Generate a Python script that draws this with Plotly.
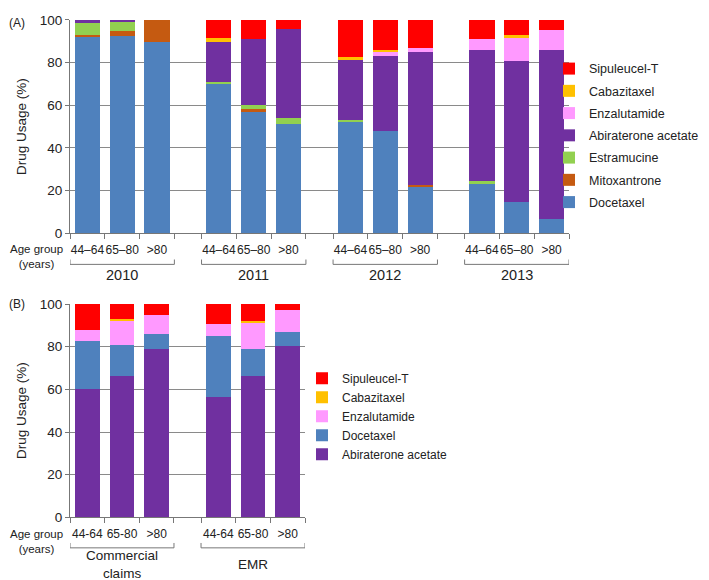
import plotly.graph_objects as go

# ---------------- data ----------------
age_groups_a = ["44–64", "65–80", ">80"]
years = ["2010", "2011", "2012", "2013"]
age_groups_b = ["44-64", "65-80", ">80"]
sources_b = ["Commercial<br>claims", "EMR"]

# Panel A (order: 2010 x3, 2011 x3, 2012 x3, 2013 x3)
a_docetaxel = [92.0, 92.7, 89.6, 70.0, 57.1, 51.3, 52.1, 47.8, 21.6, 23.2, 14.8, 6.8]
a_mitoxantrone = [1.0, 2.3, 10.4, 0.0, 1.4, 0.0, 0.0, 0.0, 1.2, 0.0, 0.0, 0.0]
a_estramucine = [5.5, 4.0, 0.0, 0.8, 1.8, 2.9, 1.0, 0.0, 0.0, 1.2, 0.0, 0.0]
a_abiraterone = [1.5, 1.0, 0.0, 18.7, 30.7, 41.7, 28.3, 35.5, 62.3, 61.6, 66.2, 79.2]
a_enzalutamide = [0.0, 0.0, 0.0, 0.0, 0.0, 0.0, 0.0, 1.9, 2.0, 5.2, 10.9, 9.1]
a_cabazitaxel = [0.0, 0.0, 0.0, 2.1, 0.0, 0.0, 1.1, 0.6, 0.0, 0.0, 0.9, 0.0]
a_sipuleucel = [0.0, 0.0, 0.0, 8.4, 9.0, 4.1, 17.5, 14.2, 12.9, 8.8, 7.2, 4.9]

# Panel B (order: Commercial x3, EMR x3)
b_abiraterone = [60.1, 66.1, 78.8, 56.3, 66.1, 80.2]
b_docetaxel = [22.5, 14.9, 7.0, 28.8, 13.0, 6.6]
b_enzalutamide = [5.3, 11.1, 9.2, 5.5, 12.4, 10.2]
b_cabazitaxel = [0.0, 0.9, 0.0, 0.0, 0.7, 0.0]
b_sipuleucel = [12.1, 7.0, 5.0, 9.4, 7.8, 3.0]

colors = {
    "Sipuleucel-T": "#FF0000",
    "Cabazitaxel": "#FFC000",
    "Enzalutamide": "#FF99FF",
    "Abiraterone acetate": "#7030A0",
    "Estramucine": "#92D050",
    "Mitoxantrone": "#C55A11",
    "Docetaxel": "#4F81BD",
}

# ---------------- layout helpers ----------------
W, H = 709, 580
GAP = 0.78
FONT = "Liberation Sans, Arial, sans-serif"
TXT = "#222222"


def positions(n_groups):
    centers, bounds, gstart, gend = [], [], [], []
    for g in range(n_groups):
        s = g * (3 + GAP)
        gstart.append(s)
        gend.append(s + 3)
        for i in range(3):
            centers.append(s + i + 0.5)
        bounds += [s, s + 1, s + 2, s + 3]
    return centers, bounds, gstart, gend


ca, ba, gsa, gea = positions(len(years))
cb, bb, gsb, geb = positions(len(sources_b))
labels_a = age_groups_a * len(years)
labels_b = age_groups_b * len(sources_b)


def py(px):
    return 1 - px / H


def pxx(px):
    return px / W


fig = go.Figure()

series_a = [
    ("Docetaxel", a_docetaxel),
    ("Mitoxantrone", a_mitoxantrone),
    ("Estramucine", a_estramucine),
    ("Abiraterone acetate", a_abiraterone),
    ("Enzalutamide", a_enzalutamide),
    ("Cabazitaxel", a_cabazitaxel),
    ("Sipuleucel-T", a_sipuleucel),
]
n = len(series_a)
for k, (name, vals) in enumerate(series_a):
    fig.add_trace(go.Bar(
        x=ca, y=vals, name=name, marker=dict(color=colors[name], line=dict(width=0)),
        width=0.72, xaxis="x", yaxis="y", legend="legend", legendgroup="A" + name,
        legendrank=n - k,
    ))

series_b = [
    ("Abiraterone acetate", b_abiraterone),
    ("Docetaxel", b_docetaxel),
    ("Enzalutamide", b_enzalutamide),
    ("Cabazitaxel", b_cabazitaxel),
    ("Sipuleucel-T", b_sipuleucel),
]
n = len(series_b)
for k, (name, vals) in enumerate(series_b):
    fig.add_trace(go.Bar(
        x=cb, y=vals, name=name, marker=dict(color=colors[name], line=dict(width=0)),
        width=0.72, xaxis="x2", yaxis="y2", legend="legend2", legendgroup="B" + name,
        legendrank=n - k,
    ))

# invisible traces for the overlay axes that carry the boundary tick marks
fig.add_trace(go.Scatter(x=[0], y=[0], xaxis="x3", yaxis="y", showlegend=False,
                         mode="markers", marker=dict(opacity=0), hoverinfo="skip"))
fig.add_trace(go.Scatter(x=[0], y=[0], xaxis="x4", yaxis="y2", showlegend=False,
                         mode="markers", marker=dict(opacity=0), hoverinfo="skip"))

xa_dom = [pxx(62), pxx(561)]
xb_dom = [pxx(62), pxx(297)]
ya_dom = [py(224), py(5)]
yb_dom = [py(515.7), py(296.7)]
ra = [0, gea[-1]]
rb = [0, geb[-1]]

axis_col = "#777777"
grid_col = "#8a8a8a"
tickfont = dict(family=FONT, size=12, color=TXT)

common_y = dict(
    range=[0, 100], tickvals=[0, 20, 40, 60, 80, 100], showgrid=True,
    gridcolor=grid_col, gridwidth=1, showline=True, linecolor=axis_col,
    ticks="outside", ticklen=4, tickcolor=axis_col,
    tickfont=dict(family=FONT, size=13.5, color=TXT),
    zeroline=False, fixedrange=True,
    title=dict(text="Drug Usage (%)", font=dict(family=FONT, size=13.5, color=TXT), standoff=10),
)

common_xlab = dict(ticks="", showline=False, showgrid=False, zeroline=False,
                   tickfont=tickfont, tickangle=0, ticklabelstandoff=8)
common_xtick = dict(showticklabels=False, ticks="outside", ticklen=5, tickcolor=axis_col,
                    showline=True, linecolor=axis_col, showgrid=False, zeroline=False)

fig.update_layout(
    width=W, height=H, margin=dict(l=0, r=0, t=0, b=0),
    paper_bgcolor="white", plot_bgcolor="white",
    barmode="stack", bargap=0,
    font=dict(family=FONT, color=TXT),
    xaxis=dict(domain=xa_dom, anchor="y", range=ra, tickvals=ca, ticktext=labels_a, **common_xlab),
    xaxis3=dict(overlaying="x", anchor="y", range=ra, tickvals=ba, **common_xtick),
    yaxis=dict(domain=ya_dom, anchor="x", **common_y),
    xaxis2=dict(domain=xb_dom, anchor="y2", range=rb, tickvals=cb, ticktext=labels_b, **common_xlab),
    xaxis4=dict(overlaying="x2", anchor="y2", range=rb, tickvals=bb, **common_xtick),
    yaxis2=dict(domain=yb_dom, anchor="x2", **common_y),
    legend=dict(x=pxx(541), y=py(40), xanchor="left", yanchor="top",
                traceorder="grouped", tracegroupgap=3,
                font=dict(family=FONT, size=12.5, color=TXT), bgcolor="rgba(0,0,0,0)"),
    legend2=dict(x=pxx(294), y=py(358), xanchor="left", yanchor="top",
                 traceorder="grouped", tracegroupgap=0,
                 font=dict(family=FONT, size=12, color=TXT), bgcolor="rgba(0,0,0,0)"),
    showlegend=True,
)

shapes = []
annotations = []


def add_brackets(xref, starts, ends, names, y_line, y_tick, y_mid, fs):
    for s, e, nm in zip(starts, ends, names):
        shapes.append(dict(
            type="path", xref=xref, yref="paper",
            path=f"M {s},{py(y_tick)} L {s},{py(y_line)} L {e},{py(y_line)} L {e},{py(y_tick)}",
            line=dict(color=axis_col, width=1),
        ))
        annotations.append(dict(
            x=(s + e) / 2, y=py(y_mid), xref=xref, yref="paper", text=nm, showarrow=False,
            xanchor="center", yanchor="middle", font=dict(family=FONT, size=fs, color=TXT),
            borderpad=0,
        ))


add_brackets("x", gsa, gea, years, 256, 251, 267, 14.5)
add_brackets("x2", gsb, geb, sources_b, 547, 542, 564, 13.5)

annotations += [
    dict(x=pxx(28), y=py(248), xref="paper", yref="paper", text="Age group<br>(years)",
         showarrow=False, xanchor="center", yanchor="middle", borderpad=0,
         font=dict(family=FONT, size=11.5, color=TXT)),
    dict(x=pxx(28), y=py(540), xref="paper", yref="paper", text="Age group<br>(years)",
         showarrow=False, xanchor="center", yanchor="middle", borderpad=0,
         font=dict(family=FONT, size=11.5, color=TXT)),
    dict(x=0, y=1, xref="paper", yref="paper", text="(A)", showarrow=False, borderpad=0,
         xanchor="left", yanchor="top", font=dict(family=FONT, size=12, color=TXT)),
    dict(x=0, y=py(288), xref="paper", yref="paper", text="(B)", showarrow=False, borderpad=0,
         xanchor="left", yanchor="top", font=dict(family=FONT, size=12, color=TXT)),
]

fig.update_layout(shapes=shapes, annotations=annotations)
fig.write_html("out.html")
